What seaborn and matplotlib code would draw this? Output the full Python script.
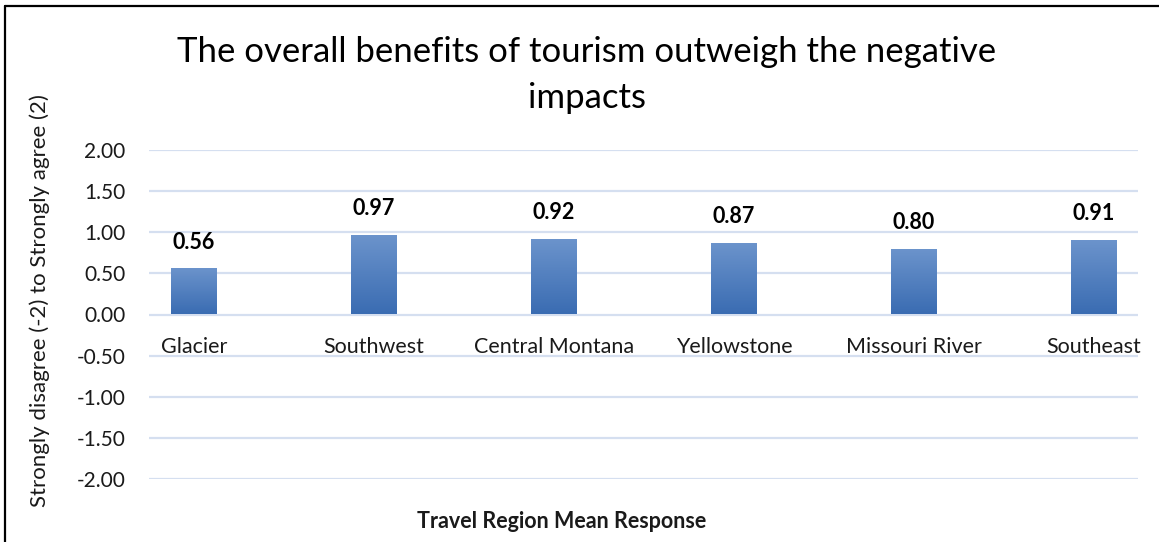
import numpy as np
import pandas as pd
import matplotlib
matplotlib.use("Agg")
import matplotlib.pyplot as plt
from matplotlib.lines import Line2D
from matplotlib.colors import LinearSegmentedColormap
import seaborn as sns

regions = ["Glacier", "Southwest", "Central Montana", "Yellowstone", "Missouri River", "Southeast"]
mean_response = [0.56, 0.97, 0.92, 0.87, 0.80, 0.91]
y_ticks = [2.0, 1.5, 1.0, 0.5, 0.0, -0.5, -1.0, -1.5, -2.0]

df = pd.DataFrame({"region": regions, "mean": mean_response})

sns.set_theme(style="white")
plt.rcParams["font.family"] = ["Lato", "DejaVu Sans"]

W, H = 1159, 542
fig = plt.figure(figsize=(W / 100, H / 100), dpi=100)
ax = fig.add_axes([149 / W, 1 - 479 / H, (1138 - 149) / W, (479 - 150) / H])

sns.barplot(data=df, x="region", y="mean", ax=ax, color="#4a7bbf",
            width=0.255, saturation=1, edgecolor="none", zorder=3)

# vertical gradient fill for each bar
grad = LinearSegmentedColormap.from_list("bar", ["#3a6cb2", "#6c94cc"])
gimg = np.linspace(0, 1, 256).reshape(-1, 1)
for p in ax.patches:
    x0, y0 = p.get_x(), p.get_y()
    w, h = p.get_width(), p.get_height()
    im = ax.imshow(gimg, cmap=grad, origin="lower", aspect="auto",
                   extent=[x0, x0 + w, y0, y0 + h], zorder=4)
    im.set_clip_path(p)
    p.set_facecolor("none")

ax.set_xlim(-0.25, 5.244)
ax.set_ylim(-2.0, 2.0)
ax.set_yticks(y_ticks)
ax.set_yticklabels([f"{v:.2f}" for v in y_ticks])
ax.yaxis.grid(True, color="#d5dff0", linewidth=1.6, zorder=0)
ax.xaxis.grid(False)
for s in ax.spines.values():
    s.set_visible(False)
ax.spines["bottom"].set_position(("data", 0))
ax.tick_params(axis="x", length=0, pad=16, labelsize=15.5, labelcolor="#1a1a1a")
ax.tick_params(axis="y", length=0, pad=17, labelsize=15, labelcolor="#1a1a1a")

for i, v in enumerate(mean_response):
    ax.annotate(f"{v:.2f}", (i, v), xytext=(0, 19), textcoords="offset points",
                ha="center", va="center", fontsize=15.5, fontweight="bold", color="black")

ax.set_xlabel("")
ax.set_ylabel("")
fig.text(40 / W, 1 - 301 / H, "Strongly disagree (-2) to Strongly agree (2)",
         rotation=90, ha="center", va="center", fontsize=16, color="#1a1a1a")
fig.text(562 / W, 1 - 522 / H, "Travel Region Mean Response",
         ha="center", va="center", fontsize=15.5, fontweight="bold", color="#1a1a1a")
fig.text(587 / W, 1 - 75 / H,
         "The overall benefits of tourism outweigh the negative\nimpacts",
         ha="center", va="center", fontsize=25, color="black", linespacing=1.5)

# chart frame edges
fig.add_artist(Line2D([4.5 / W, 1], [1 - 5.5 / H, 1 - 5.5 / H], color="black", linewidth=1.6))
fig.add_artist(Line2D([4.5 / W, 4.5 / W], [0, 1 - 5.5 / H], color="black", linewidth=1.6))

fig.savefig("out.png", dpi=100)
